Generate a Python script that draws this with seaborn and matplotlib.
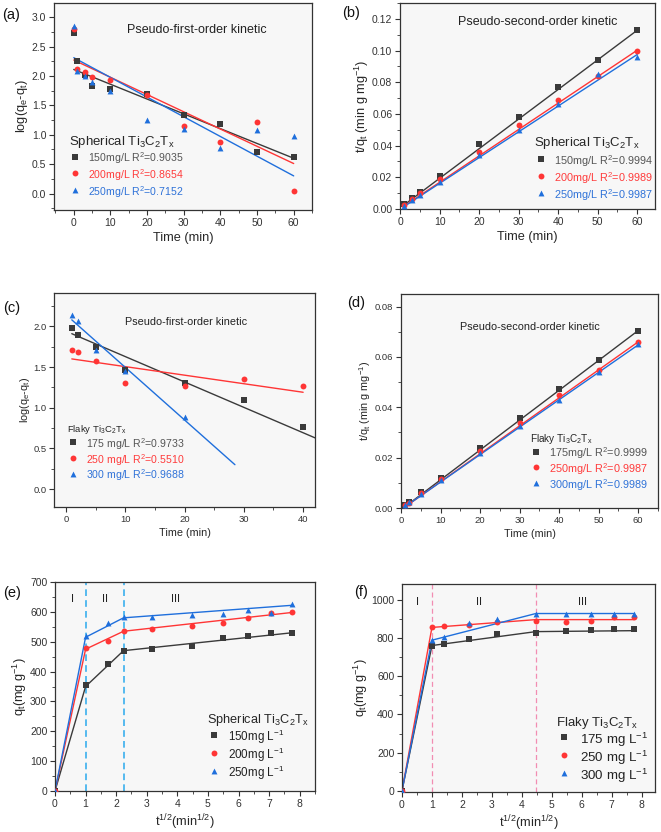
import numpy as np
import pandas as pd
import matplotlib
matplotlib.use("Agg")
import matplotlib.pyplot as plt
from matplotlib.ticker import AutoMinorLocator, MultipleLocator, FormatStrFormatter
import seaborn as sns

# ---------------- data ----------------
# (a) pseudo-first-order, spherical
t_a = [0, 1, 3, 5, 10, 20, 30, 40, 50, 60]
a_150 = [2.73, 2.25, 2.02, 1.83, 1.77, 1.70, 1.34, 1.18, 0.70, 0.62]
a_200 = [2.80, 2.11, 2.07, 1.99, 1.93, 1.67, 1.14, 0.88, 1.21, 0.04]
a_250 = [2.85, 2.09, 2.00, 1.89, 1.75, 1.25, 1.10, 0.78, 1.08, 0.98]
fit_a_x = [0, 60]
fit_a_150 = [2.11, 0.60]
fit_a_200 = [2.27, 0.51]
fit_a_250 = [2.31, 0.30]

# (b) pseudo-second-order, spherical
t_b = [1, 3, 5, 10, 20, 30, 40, 50, 60]
b_150 = [0.003, 0.007, 0.011, 0.021, 0.041, 0.058, 0.077, 0.094, 0.113]
b_200 = [0.0025, 0.006, 0.010, 0.019, 0.036, 0.053, 0.069, 0.084, 0.100]
b_250 = [0.002, 0.0055, 0.009, 0.017, 0.034, 0.050, 0.066, 0.085, 0.096]
fit_b_x = [1, 60]
fit_b_150 = [0.0025, 0.1128]
fit_b_200 = [0.0018, 0.1002]
fit_b_250 = [0.0015, 0.0975]

# (c) pseudo-first-order, flaky
t_c = [1, 2, 5, 10, 20, 30, 40]
c_175 = [1.98, 1.89, 1.75, 1.46, 1.31, 1.09, 0.76]
c_250 = [1.71, 1.68, 1.58, 1.30, 1.27, 1.35, 1.27]
t_c300 = [1, 2, 5, 10, 20]
c_300 = [2.14, 2.07, 1.71, 1.45, 0.88]
fit_c_175_x, fit_c_175 = [1, 42], [1.91, 0.63]
fit_c_250_x, fit_c_250 = [1, 40], [1.60, 1.19]
fit_c_300_x, fit_c_300 = [1, 28.5], [2.08, 0.30]

# (d) pseudo-second-order, flaky
t_d = [1, 2, 5, 10, 20, 30, 40, 50, 60]
d_175 = [0.0012, 0.0025, 0.0062, 0.012, 0.024, 0.0357, 0.0473, 0.0588, 0.0705]
d_250 = [0.001, 0.002, 0.006, 0.0115, 0.0225, 0.0338, 0.0448, 0.0550, 0.0660]
d_300 = [0.0012, 0.0025, 0.0057, 0.011, 0.022, 0.0325, 0.043, 0.054, 0.065]
fit_d_x = [1, 60]
fit_d_175 = [0.0005, 0.0705]
fit_d_250 = [0.0004, 0.0660]
fit_d_300 = [0.0005, 0.0648]

# (e) intraparticle diffusion, spherical
s_e = [0, 1, 1.73, 2.24, 3.16, 4.47, 5.48, 6.32, 7.07, 7.75]
e_150 = [0, 355, 425, 468, 476, 486, 512, 519, 529, 530]
e_200 = [0, 478, 504, 535, 541, 552, 562, 580, 595, 600]
e_250 = [0, 518, 564, 582, 582, 591, 592, 605, 597, 626]
fit_e_x = [0, 1, 2.24, 7.75]
fit_e_150 = [0, 350, 470, 530]
fit_e_200 = [0, 475, 535, 598]
fit_e_250 = [0, 515, 580, 622]
bounds_e = [1, 2.24]

# (f) intraparticle diffusion, flaky
s_f = [0, 1, 1.41, 2.24, 3.16, 4.47, 5.48, 6.32, 7.07, 7.75]
f_175 = [0, 757, 772, 795, 820, 830, 838, 843, 848, 851]
f_250 = [0, 857, 862, 870, 888, 890, 888, 890, 910, 910]
f_300 = [0, 790, 808, 878, 900, 928, 930, 930, 930, 930]
fit_f_x = [0, 1, 4.47, 7.75]
fit_f_175 = [0, 762, 835, 840]
fit_f_250 = [0, 857, 898, 898]
fit_f_300 = [0, 790, 930, 930]
bounds_f = [1, 4.47]

# ---------------- style ----------------
sns.set_theme(style="ticks")
plt.rcParams['font.family'] = ['Liberation Sans', 'DejaVu Sans']
plt.rcParams['mathtext.fontset'] = 'custom'
plt.rcParams['mathtext.rm'] = 'Liberation Sans'
plt.rcParams['mathtext.it'] = 'Liberation Sans:italic'
plt.rcParams['axes.edgecolor'] = '#333333'
plt.rcParams['xtick.color'] = '#333333'
plt.rcParams['ytick.color'] = '#333333'

BLACK, RED, BLUE = '#3a3a3a', '#ff3535', '#1f6fdc'
TXT = ['#555555', '#ff3b3b', '#2f72d8']
MARKERS = ['s', 'o', '^']
SPH = r'Spherical Ti$_\mathregular{3}$C$_\mathregular{2}$T$_\mathregular{x}$'
FLK = r'Flaky Ti$_\mathregular{3}$C$_\mathregular{2}$T$_\mathregular{x}$'

W, H = 661, 832
fig = plt.figure(figsize=(W / 100, H / 100), dpi=100)


def make_ax(l, t, r, b):
    ax = fig.add_axes([l / W, 1 - b / H, (r - l) / W, (b - t) / H])
    ax.set_facecolor('#f7f7f7')
    for sp in ax.spines.values():
        sp.set_linewidth(0.9)
    return ax


def draw(ax, xs, ys, fits, labels, legend_title, legend_pos, loc, fs, tfs, spacing):
    handles = []
    for i, (x, y) in enumerate(zip(xs, ys)):
        col = [BLACK, RED, BLUE][i]
        fx, fy = fits[i]
        sns.lineplot(x=fx, y=fy, ax=ax, color=col, lw=1.0, legend=False,
                     estimator=None, sort=False)
        sns.scatterplot(x=x, y=y, ax=ax, color=col, marker=MARKERS[i],
                        s=18, linewidth=0, legend=False, zorder=3)
        handles.append(ax.collections[-1])
    leg = ax.legend(handles, labels, title=legend_title, loc=loc,
                    bbox_to_anchor=legend_pos, frameon=False, fontsize=fs,
                    title_fontsize=tfs, labelcolor=TXT, alignment='left',
                    handletextpad=0.6, labelspacing=spacing, borderaxespad=0,
                    handlelength=1.2, handleheight=0.5, scatterpoints=1,
                    scatteryoffsets=[0.95], borderpad=0.2)
    return leg


def style(ax, xlim, ylim, xstep, ystep, xlabel, ylabel, tsize, lsize, yfmt=None):
    ax.set_xlim(*xlim)
    ax.set_ylim(*ylim)
    ax.xaxis.set_major_locator(MultipleLocator(xstep))
    ax.yaxis.set_major_locator(MultipleLocator(ystep))
    ax.xaxis.set_minor_locator(AutoMinorLocator(2))
    ax.yaxis.set_minor_locator(AutoMinorLocator(2))
    if yfmt:
        ax.yaxis.set_major_formatter(FormatStrFormatter(yfmt))
    ax.tick_params(which='major', length=3.5, width=0.8, labelsize=tsize, pad=2)
    ax.tick_params(which='minor', length=2, width=0.6)
    ax.set_xlabel(xlabel, fontsize=lsize, labelpad=3)
    ax.set_ylabel(ylabel, fontsize=lsize, labelpad=1)


# (a)
ax = make_ax(54, 3, 312, 210)
draw(ax, [t_a] * 3, [a_150, a_200, a_250],
     [(fit_a_x, fit_a_150), (fit_a_x, fit_a_200), (fit_a_x, fit_a_250)],
     ['150mg/L R$^\\mathregular{2}$=0.9035', '200mg/L R$^\\mathregular{2}$=0.8654',
      '250mg/L R$^\\mathregular{2}$=0.7152'],
     SPH, (0.05, 0.04), 'lower left', 7.6, 9.5, 0.08)
style(ax, (-5.4, 65), (-0.28, 3.24), 10, 0.5, 'Time (min)', 'log(q$_\\mathregular{e}$-q$_\\mathregular{t}$)', 7.5, 9.2)
ax.text(0.555, 0.87, 'Pseudo-first-order kinetic', transform=ax.transAxes,
        ha='center', va='center', fontsize=9, color='#222222')

# (b)
ax = make_ax(400, 3, 655, 209)
draw(ax, [t_b] * 3, [b_150, b_200, b_250],
     [(fit_b_x, fit_b_150), (fit_b_x, fit_b_200), (fit_b_x, fit_b_250)],
     ['150mg/L R$^\\mathregular{2}$=0.9994', '200mg/L R$^\\mathregular{2}$=0.9989',
      '250mg/L R$^\\mathregular{2}$=0.9987'],
     SPH, (1.0, 0.02), 'lower right', 7.8, 9.5, 0.12)
style(ax, (0, 64.5), (0, 0.13), 10, 0.02, 'Time (min)', 't/q$_\\mathregular{t}$ (min g mg$^\\mathregular{-1}$)', 7.5, 9.2, '%.2f')
ax.text(0.54, 0.91, 'Pseudo-second-order kinetic', transform=ax.transAxes,
        ha='center', va='center', fontsize=9, color='#222222')

# (c)
ax = make_ax(54, 293, 315, 507)
draw(ax, [t_c, t_c, t_c300], [c_175, c_250, c_300],
     [(fit_c_175_x, fit_c_175), (fit_c_250_x, fit_c_250), (fit_c_300_x, fit_c_300)],
     ['175 mg/L R$^\\mathregular{2}$=0.9733', '250 mg/L R$^\\mathregular{2}$=0.5510',
      '300 mg/L R$^\\mathregular{2}$=0.9688'],
     FLK, (0.04, 0.10), 'lower left', 7.6, 6.8, 0.0)
style(ax, (-2, 42), (-0.22, 2.41), 10, 0.5, 'Time (min)', 'log(q$_\\mathregular{e}$-q$_\\mathregular{t}$)', 6.8, 7.8)
ax.text(0.506, 0.865, 'Pseudo-first-order kinetic', transform=ax.transAxes,
        ha='center', va='center', fontsize=7.8, color='#222222')

# (d)
ax = make_ax(401, 294, 658, 508)
draw(ax, [t_d] * 3, [d_175, d_250, d_300],
     [(fit_d_x, fit_d_175), (fit_d_x, fit_d_250), (fit_d_x, fit_d_300)],
     ['175mg/L R$^\\mathregular{2}$=0.9999', '250mg/L R$^\\mathregular{2}$=0.9987',
      '300mg/L R$^\\mathregular{2}$=0.9989'],
     FLK, (0.97, 0.06), 'lower right', 7.8, 7.2, 0.0)
style(ax, (0, 65), (0, 0.085), 10, 0.02, 'Time (min)', 't/q$_\\mathregular{t}$ (min g mg$^\\mathregular{-1}$)', 6.8, 7.8, '%.2f')
ax.text(0.50, 0.846, 'Pseudo-second-order kinetic', transform=ax.transAxes,
        ha='center', va='center', fontsize=7.8, color='#222222')

# (e)
ax = make_ax(55, 582, 315, 791)
for xb in bounds_e:
    ax.axvline(xb, color='#3ab0ee', lw=1.2, ls=(0, (4, 2.5)), zorder=1)
draw(ax, [s_e] * 3, [e_150, e_200, e_250],
     [(fit_e_x, fit_e_150), (fit_e_x, fit_e_200), (fit_e_x, fit_e_250)],
     ['150mg L$^\\mathregular{-1}$', '200mg L$^\\mathregular{-1}$', '250mg L$^\\mathregular{-1}$'],
     SPH, (0.985, 0.03), 'lower right', 8.4, 9.2, 0.0)
leg = ax.get_legend()
for tx in leg.get_texts():
    tx.set_color('#222222')
style(ax, (0, 8.5), (0, 700), 1, 100, 't$^\\mathregular{1/2}$(min$^\\mathregular{1/2}$)', 'q$_\\mathregular{t}$(mg g$^\\mathregular{-1}$)', 7.5, 9.2)
for txt, xx in zip(['I', 'II', 'III'], [0.58, 1.65, 3.93]):
    ax.text(xx, 643, txt, ha='center', va='center', fontsize=8, color='#222222')

# (f)
ax = make_ax(402, 584, 655, 792)
for xb in bounds_f:
    ax.axvline(xb, color='#f28db2', lw=0.9, ls=(0, (4, 2.5)), zorder=1)
draw(ax, [s_f] * 3, [f_175, f_250, f_300],
     [(fit_f_x, fit_f_175), (fit_f_x, fit_f_250), (fit_f_x, fit_f_300)],
     ['175 mg L$^\\mathregular{-1}$', '250 mg L$^\\mathregular{-1}$', '300 mg L$^\\mathregular{-1}$'],
     FLK, (0.985, 0.02), 'lower right', 9.6, 9.5, 0.0)
leg = ax.get_legend()
for tx in leg.get_texts():
    tx.set_color('#222222')
style(ax, (0, 8.45), (-7, 1085), 1, 200, 't$^\\mathregular{1/2}$(min$^\\mathregular{1/2}$)', 'q$_\\mathregular{t}$(mg g$^\\mathregular{-1}$)', 7.5, 9.2)
for txt, xx in zip(['I', 'II', 'III'], [0.52, 2.58, 6.02]):
    ax.text(xx, 988, txt, ha='center', va='center', fontsize=8, color='#222222')

# panel labels
for lab, px, py in [('(a)', 2, 15), ('(b)', 342, 13), ('(c)', 3, 308),
                    ('(d)', 347, 303), ('(e)', 3, 593), ('(f)', 354, 592)]:
    fig.text(px / W, 1 - py / H, lab, ha='left', va='center', fontsize=10.5, color='#111111')

fig.savefig('out.png', dpi=100)
